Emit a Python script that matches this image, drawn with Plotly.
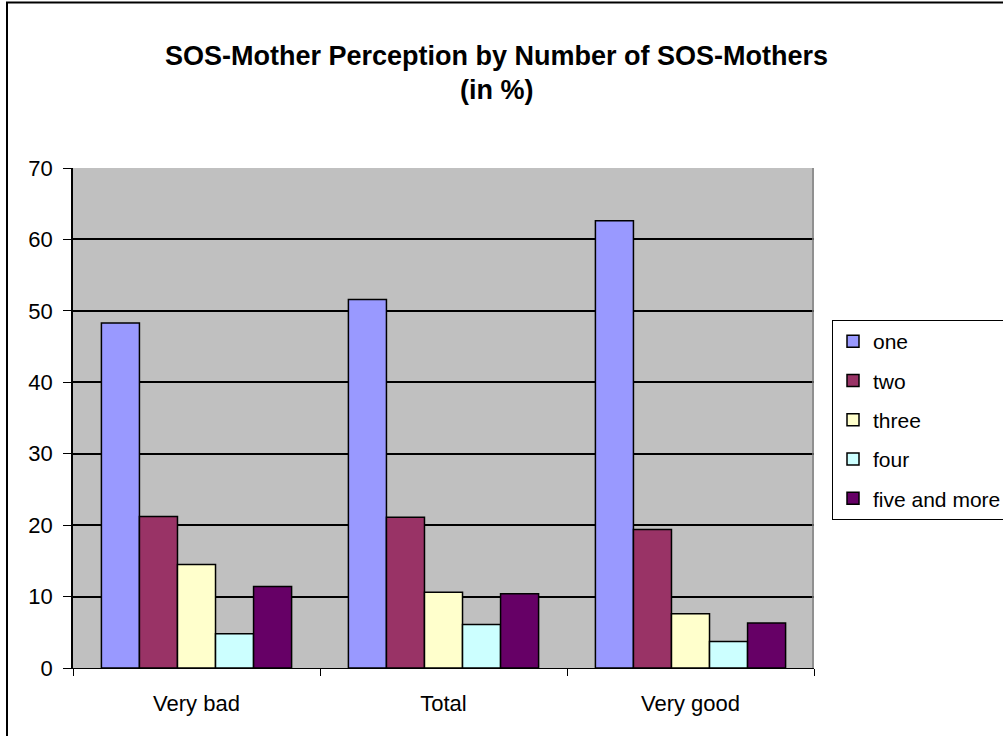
import plotly.graph_objects as go

categories = ["Very bad", "Total", "Very good"]
series_names = ["one", "two", "three", "four", "five and more"]
one = [48.3, 51.6, 62.6]
two = [21.2, 21.1, 19.4]
three = [14.5, 10.6, 7.6]
four = [4.8, 6.1, 3.7]
five_and_more = [11.4, 10.4, 6.3]
series_values = [one, two, three, four, five_and_more]
colors = ["#9999FF", "#993366", "#FFFFCC", "#CCFFFF", "#660066"]
y_ticks = [0, 10, 20, 30, 40, 50, 60, 70]

W, H = 1003, 736
L, R, T, B = 73, 814, 168, 668  # target screen px

def px2paper_x(px):
    return (px - L) / (R - L)

def px2paper_y(py):
    return (B - py) / (B - T)

fig = go.Figure()
for name, vals, col in zip(series_names, series_values, colors):
    fig.add_trace(go.Bar(
        name=name, x=categories, y=vals, legendgroup=name,
        marker=dict(color=col, line=dict(color="black", width=1.5)),
    ))

font_family = "Liberation Sans, Arial, sans-serif"

fig.update_layout(
    width=W, height=H,
    margin=dict(l=L, r=W - R, t=T, b=H - B, pad=0, autoexpand=False),
    paper_bgcolor="white",
    plot_bgcolor="#C0C0C0",
    barmode="group",
    bargap=0.23,
    bargroupgap=0,
    font=dict(family=font_family, size=22, color="black"),
    showlegend=True,
    legend=dict(
        x=px2paper_x(832), y=px2paper_y(320), xanchor="left", yanchor="top",
        bordercolor="black", borderwidth=1, bgcolor="white",
        font=dict(size=21, family=font_family),
        tracegroupgap=9, itemwidth=30,
    ),
    xaxis=dict(
        showgrid=False, showline=True, linecolor="black", linewidth=1,
        ticks="outside", tickson="boundaries", ticklen=7, tickcolor="black",
        tickfont=dict(size=22), ticklabelstandoff=16,
    ),
    yaxis=dict(
        range=[0, 70], tickvals=y_ticks, showgrid=True, gridcolor="black", gridwidth=1.5,
        showline=True, linecolor="black", linewidth=1.5, ticks="outside", ticklen=8,
        tickcolor="black", tickfont=dict(size=22), zeroline=False, ticklabelstandoff=6,
    ),
    annotations=[
        dict(text="<b>SOS-Mother Perception by Number of SOS-Mothers</b>", xref="paper", yref="paper",
             x=px2paper_x(497), y=px2paper_y(56), showarrow=False, xanchor="center", yanchor="middle",
             font=dict(size=27, family=font_family)),
        dict(text="<b>(in %)</b>", xref="paper", yref="paper",
             x=px2paper_x(497), y=px2paper_y(90), showarrow=False, xanchor="center", yanchor="middle",
             font=dict(size=27, family=font_family)),
    ],
    shapes=[
        dict(type="line", xref="paper", yref="paper", x0=px2paper_x(813), x1=px2paper_x(813),
             y0=0, y1=1, line=dict(color="#808080", width=1.5)),
        dict(type="line", xref="paper", yref="paper", x0=px2paper_x(6), x1=px2paper_x(1010),
             y0=px2paper_y(2.5), y1=px2paper_y(2.5), line=dict(color="black", width=2)),
        dict(type="line", xref="paper", yref="paper", x0=px2paper_x(7), x1=px2paper_x(7),
             y0=px2paper_y(2), y1=px2paper_y(745), line=dict(color="black", width=2)),
    ],
)

fig.write_html("out.html", config={"displayModeBar": False},
               post_script="document.body.style.margin='0';")
